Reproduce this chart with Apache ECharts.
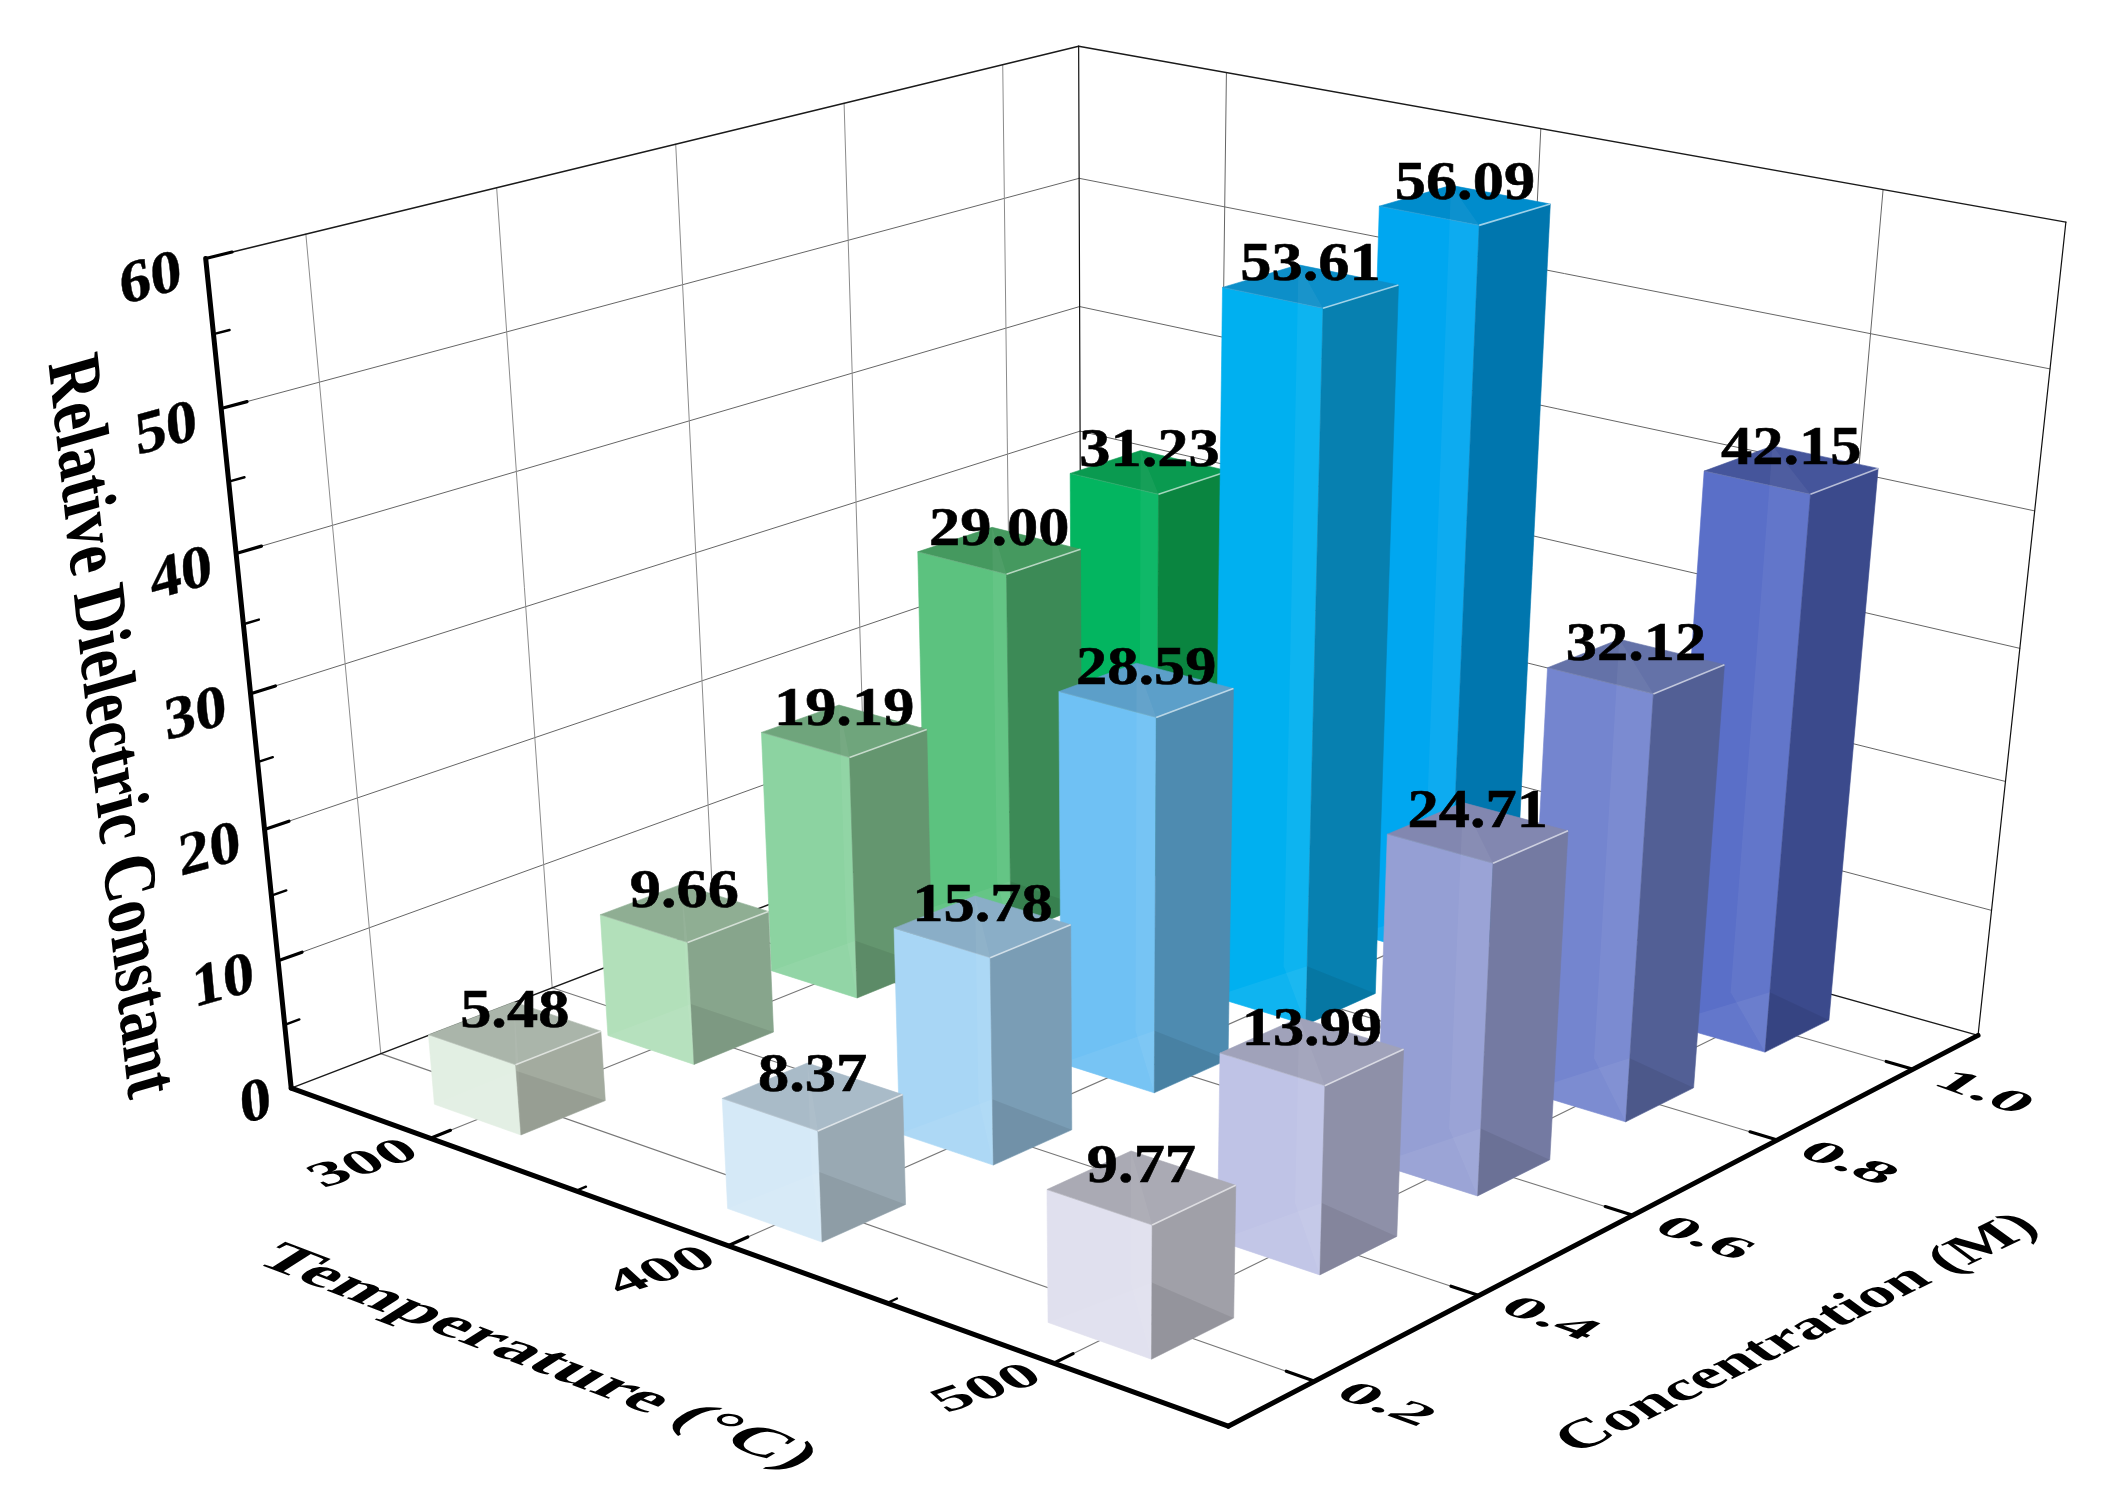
<!DOCTYPE html>
<html>
<head>
<meta charset="utf-8">
<style>
html,body{margin:0;padding:0;background:#fff}
#c{width:2113px;height:1502px;filter:blur(0.6px)}
</style>
<script src="https://cdn.jsdelivr.net/npm/echarts@6/dist/echarts.min.js"></script>
</head>
<body>
<div id="c"></div>
<script>
// ---------- data ----------
const temperatures = [300, 400, 500];
const concentrations = [0.2, 0.4, 0.6, 0.8, 1.0];
const values300 = [5.48, 9.66, 19.19, 29.00, 31.23];
const values400 = [8.37, 15.78, 28.59, 53.61, 56.09];
const values500 = [9.77, 13.99, 24.71, 32.12, 42.15];
const zMajor = [0, 10, 20, 30, 40, 50, 60];
const zMinor = [5, 15, 25, 35, 45, 55];
const tempMinor = [350, 450];
const titleT = 'Temperature (°C)', titleC = 'Concentration (M)', titleZ = 'Relative Dielectric Constant';

// ---------- styles ----------
const leftColors = [
  ['#e2efe3', '#b2e0ba', '#8cd3a1', '#5cc27f', '#03b560'],
  ['#d5e9f7', '#a8d6f5', '#6fc1f4', '#00b0f0', '#00a7f0'],
  ['#e0e0ee', '#bfc3e6', '#959fd4', '#7485cf', '#5a6fc8']];
const rightColors = [
  ['#a3ab9f', '#87a58c', '#64966f', '#3c8a56', '#0a8540'],
  ['#99a9b3', '#7a9db5', '#4e8bb0', '#0780b0', '#0076ae'],
  ['#a0a0a8', '#8e90a8', '#747aa2', '#525f95', '#3b4a8c']];
const topColors = [
  ['#aab5aa', '#8fae93', '#6fa57c', '#45995f', '#0a9a50'],
  ['#a9bbc8', '#8aaec7', '#5c9fc9', '#0d8fc9', '#008ccc'],
  ['#aaaab4', '#a0a2ba', '#8287b0', '#6472a8', '#45559b']];
const T_MIN = 250, T_MAX = 550, C_MIN = 0.1, C_MAX = 1.1, Z_MAX = 60;
const halfT = 15.2, halfC = 0.048;
const serif = "'Liberation Serif','Times New Roman',serif";

// ---------- camera: solved from the frame's corners ----------
const corners = [ // [u, v, w, px, py]
  [0,0,0, 292,1086],[1,0,0, 1228,1428],[1,1,0, 1979,1033],[0,1,0, 1080,787],
  [0,0,1, 205,259],[1,1,1, 2065,223],[0,1,1, 1080,45]];
function solveCamera(pts){
  const N=11, A=[], b=[];
  pts.forEach(([u,v,w,x,y])=>{
    A.push([u,v,w,1,0,0,0,0,-x*u,-x*v,-x*w]); b.push(x);
    A.push([0,0,0,0,u,v,w,1,-y*u,-y*v,-y*w]); b.push(y);
  });
  const M=[];
  for(let i=0;i<N;i++){M.push(new Array(N+1).fill(0));
    for(let j=0;j<N;j++)for(let k=0;k<A.length;k++)M[i][j]+=A[k][i]*A[k][j];
    for(let k=0;k<A.length;k++)M[i][N]+=A[k][i]*b[k];}
  for(let i=0;i<N;i++){let p=i;for(let r=i+1;r<N;r++)if(Math.abs(M[r][i])>Math.abs(M[p][i]))p=r;
    [M[i],M[p]]=[M[p],M[i]];
    for(let r=0;r<N;r++){if(r===i)continue;const f=M[r][i]/M[i][i];for(let c=i;c<=N;c++)M[r][c]-=f*M[i][c];}}
  return M.map((row,i)=>row[N]/row[i]);
}
const cam = solveCamera(corners);
const chart = echarts.init(document.getElementById('c'), null, {renderer:'canvas'});
function P(api,T,C,Z){
  const tz = api.coord([T,Z]);
  const u = tz[0]/1000, w = 1-tz[1]/1000;
  const v = chart.convertToPixel({xAxisIndex:1}, C)/1000;
  const d = cam[8]*u+cam[9]*v+cam[10]*w+1;
  return [(cam[0]*u+cam[1]*v+cam[2]*w+cam[3])/d,(cam[4]*u+cam[5]*v+cam[6]*w+cam[7])/d];
}
// arbitrary affine text: e1 = screen vector per local x, e2 = screen vector per local y (down)
function affineText(text,x,y,e1,e2,font,align,vAlign,weight){
  const a=e1[0],c=e1[1],b=e2[0],d=e2[1];
  const E=(a+d)/2,F=(a-d)/2,G=(c+b)/2,H=(c-b)/2;
  const Q=Math.hypot(E,H),R=Math.hypot(F,G);
  const a1=Math.atan2(G,F),a2=Math.atan2(H,E);
  const theta=(a2-a1)/2,phi=(a2+a1)/2;
  const style={text:text,x:0,y:0,font:font,fill:'#000',
      align:align,verticalAlign:vAlign,textAlign:align,textVerticalAlign:vAlign};
  if(weight){style.stroke='#000';style.lineWidth=weight;}
  return {type:'group',x:x,y:y,rotation:-phi,scaleX:Q+R,scaleY:Q-R,children:[
    {type:'text',rotation:-theta,style:style}]};
}

// ---------- frame segments ----------
// kinds: 0 wall grid, 1 floor grid, 2 top/back edges, 3 thick axis, 4 major tick, 5 minor tick, 6 right/back verticals
const segStyles = [
  {stroke:'#8c8c8c',lineWidth:1},
  {stroke:'#777',lineWidth:1.1},
  {stroke:'#1a1a1a',lineWidth:1.4},
  {stroke:'#000',lineWidth:5},
  {stroke:'#000',lineWidth:3.2},
  {stroke:'#000',lineWidth:2.4},
  {stroke:'#111',lineWidth:1.2},
  {stroke:'#666',lineWidth:1}];
const segs = [];
zMajor.slice(1,-1).forEach(z=>{
  segs.push([T_MIN,C_MIN,z,T_MIN,C_MAX,z,7]);
  segs.push([T_MIN,C_MAX,z,T_MAX,C_MAX,z,7]);
});
concentrations.forEach(c=>{
  segs.push([T_MIN,c,0,T_MIN,c,Z_MAX,0]);
  segs.push([T_MIN,c,0,T_MAX,c,0,1]);
});
temperatures.forEach(t=>{
  segs.push([t,C_MAX,0,t,C_MAX,Z_MAX,7]);
  segs.push([t,C_MIN,0,t,C_MAX,0,1]);
});
segs.push([T_MIN,C_MIN,0,T_MIN,C_MAX,0,2]);
segs.push([T_MIN,C_MAX,0,T_MAX,C_MAX,0,2]);
segs.push([T_MIN,C_MIN,Z_MAX,T_MIN,C_MAX,Z_MAX,2]);
segs.push([T_MIN,C_MAX,Z_MAX,T_MAX,C_MAX,Z_MAX,2]);
segs.push([T_MIN,C_MAX,0,T_MIN,C_MAX,Z_MAX,6]);
segs.push([T_MAX,C_MAX,0,T_MAX,C_MAX,Z_MAX,6]);
const axisSegs = [];
axisSegs.push([T_MIN,C_MIN,0,T_MIN,C_MIN,Z_MAX,3]);
axisSegs.push([T_MIN,C_MIN,0,T_MAX,C_MIN,0,3]);
axisSegs.push([T_MAX,C_MIN,0,T_MAX,C_MAX,0,3]);
zMajor.forEach(z=>{ if(z>0) axisSegs.push([T_MIN,C_MIN,z,T_MIN,C_MIN+0.026,z,4]); });
zMinor.forEach(z=>axisSegs.push([T_MIN,C_MIN,z,T_MIN,C_MIN+0.016,z,5]));
temperatures.forEach(t=>axisSegs.push([t,C_MIN,0,t,C_MIN+0.022,0,4]));
tempMinor.forEach(t=>axisSegs.push([t,C_MIN,0,t,C_MIN+0.011,0,5]));
concentrations.forEach(c=>axisSegs.push([T_MAX,c,0,T_MAX-8,c,0,4]));

function segItem(params,api){
  const a=P(api,api.value(0),api.value(1),api.value(2)),b=P(api,api.value(3),api.value(4),api.value(5));
  return {type:'line',shape:{x1:a[0],y1:a[1],x2:b[0],y2:b[1]},style:Object.assign({lineCap:'round',fill:null},segStyles[api.value(6)])};
}

// ---------- bars ----------
const barData = [];
[values300,values400,values500].forEach((vals,ti)=>{
  for(let ci=vals.length-1;ci>=0;ci--) barData.push([temperatures[ti],concentrations[ci],vals[ci],ti,ci]);
});
function poly(points,fill,extra){
  return Object.assign({type:'polygon',shape:{points:points},style:{fill:fill,stroke:fill,lineWidth:0.6}},extra||{});
}
function barItem(params,api){
  const T=api.value(0),C=api.value(1),V=api.value(2),ti=api.value(3),ci=api.value(4);
  const t0=T-halfT,t1=T+halfT,c0=C-halfC,c1=C+halfC;
  const L0=P(api,t0,c0,0),F0=P(api,t1,c0,0),R0=P(api,t1,c1,0),B0=P(api,t0,c1,0);
  const L1=P(api,t0,c0,V),F1=P(api,t1,c0,V),R1=P(api,t1,c1,V),B1=P(api,t0,c1,V);
  // where the hidden back-bottom corner shows through on the front edge
  const k=Math.min(1,(F0[1]-B0[1])/(F0[1]-F1[1]));
  const X=[F0[0]+(F1[0]-F0[0])*k,F0[1]+(F1[1]-F0[1])*k];
  const z=params.dataIndex;
  return {type:'group',children:[
    poly([L0,F0,F1,L1],leftColors[ti][ci],{z2:z}),
    poly([F0,R0,R1,F1],rightColors[ti][ci],{z2:z}),
    poly([L1,F1,R1,B1],topColors[ti][ci],{z2:z}),
    {type:'polygon',z2:z,shape:{points:[B1,F1,F0,B0]},style:{fill:'rgba(255,255,255,0.05)'}},
    {type:'polygon',z2:z,shape:{points:[L0,F0,X]},style:{fill:'rgba(255,255,255,0.06)'}},
    {type:'polygon',z2:z,shape:{points:[F0,R0,X]},style:{fill:'rgba(0,0,0,0.07)'}},
    {type:'line',z2:z,shape:{x1:F1[0],y1:F1[1],x2:R1[0],y2:R1[1]},style:{stroke:'rgba(255,255,255,0.6)',lineWidth:1.6}},
    {type:'line',z2:z,shape:{x1:L1[0],y1:L1[1],x2:F1[0],y2:F1[1]},style:{stroke:'rgba(255,255,255,0.1)',lineWidth:1.2}}
  ]};
}
function labelItem(params,api){
  const T=api.value(0),C=api.value(1),V=api.value(2);
  const p=P(api,T,C,V);
  return affineText(V.toFixed(2),p[0],p[1]+7.5,[1.3,0],[0,1.15],'bold 48px '+serif,'center','bottom',0.5);
}

// ---------- axis text ----------
const textItems = [];
function axisTextItem(params,api){
  const i=api.value(0);
  if(i<zMajor.length){
    const z=zMajor[i],p=P(api,T_MIN,C_MIN,z);
    const dy=z===0?12:14, dx=z===0?-20:-24;
    return affineText(String(z),p[0]+dx,p[1]+dy,[1.34,-0.37],[0.12,1.3],'bold 46px '+serif,'right','middle',0.3);
  }
  let j=i-zMajor.length;
  if(j<temperatures.length){
    const p=P(api,temperatures[j],C_MIN,0);
    return affineText(String(temperatures[j]),p[0]-66,p[1]+26,[1.38,-0.45],[0.68,0.62],'bold 48px '+serif,'center','middle');
  }
  j-=temperatures.length;
  if(j<concentrations.length){
    const p=P(api,T_MAX,concentrations[j],0);
    return affineText(concentrations[j].toFixed(1),p[0]+70,p[1]+24,[1.45,0.52],[-0.72,0.5],'bold 48px '+serif,'center','middle');
  }
  j-=concentrations.length;
  if(j===0) return affineText(titleT,536,1358,[1.43,0.55],[-0.98,0.62],'bold 50px '+serif,'center','middle');
  if(j===1) return affineText(titleC,1798,1334,[1.16,-0.56],[0.85,0.62],'bold 50px '+serif,'center','middle');
  return affineText(titleZ,108,727,[0.14,1.28],[-1.55,0.44],'bold 48px '+serif,'center','middle');
}
const nText = zMajor.length+temperatures.length+concentrations.length+3;
for(let i=0;i<nText;i++) textItems.push([i]);

const gridBox = {left:0,top:0,width:1000,height:1000,show:false};
chart.setOption({
  animation:false,
  backgroundColor:'#fff',
  grid:[gridBox,gridBox],
  xAxis:[
    {type:'value',gridIndex:0,min:T_MIN,max:T_MAX,show:false},
    {type:'value',gridIndex:1,min:C_MIN,max:C_MAX,show:false}],
  yAxis:[
    {type:'value',gridIndex:0,min:0,max:Z_MAX,show:false},
    {type:'value',gridIndex:1,min:0,max:Z_MAX,show:false}],
  series:[
    {type:'custom',name:'frame',z:1,coordinateSystem:'cartesian2d',silent:true,renderItem:segItem,data:segs,clip:false},
    {type:'custom',name:'bars',z:2,coordinateSystem:'cartesian2d',silent:true,renderItem:barItem,data:barData,clip:false},
    {type:'custom',name:'axes',z:3,coordinateSystem:'cartesian2d',silent:true,renderItem:segItem,data:axisSegs,clip:false},
    {type:'custom',name:'values',z:4,coordinateSystem:'cartesian2d',silent:true,renderItem:labelItem,data:barData,clip:false},
    {type:'custom',name:'axisText',z:4,coordinateSystem:'cartesian2d',silent:true,renderItem:axisTextItem,data:textItems,clip:false}
  ]
});
</script>
</body>
</html>
